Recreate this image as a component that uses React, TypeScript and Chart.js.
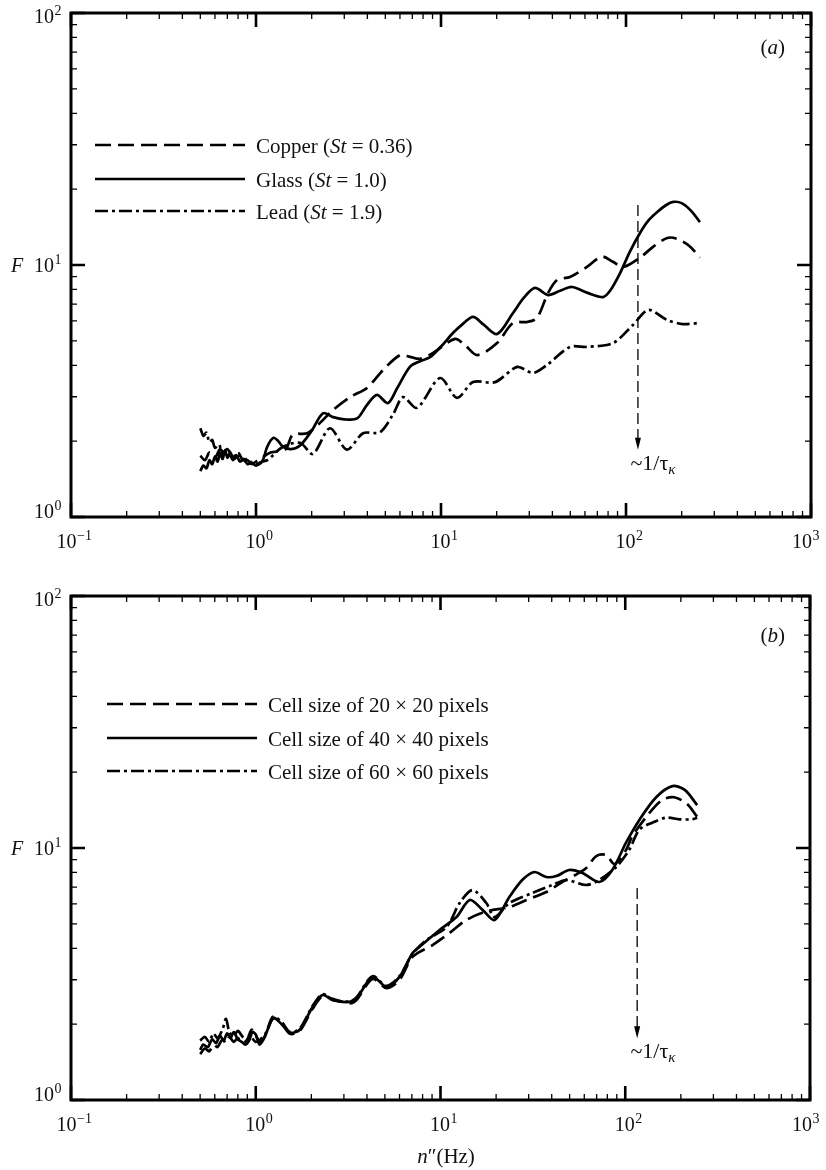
import React, { useEffect, useRef } from 'react';
import { Chart, registerables } from 'chart.js';

Chart.register(...registerables);

const SERIF = '"Liberation Serif", "Times New Roman", "DejaVu Serif", serif';
const INK = '#111';

// ---------- Panel (a): particle materials ----------
const copperX = [0.5, 0.53, 0.56, 0.6, 0.64, 0.68, 0.72, 0.76, 0.8, 0.85, 0.9, 0.95, 1.0, 1.08, 1.19, 1.3, 1.45, 1.58, 1.89, 2.2, 2.61, 3.22, 3.98, 4.86, 6.0, 6.8, 7.69, 9.06, 11.9, 13.5, 15.7, 20.1, 24.5, 29.2, 33.0, 37.9, 42.4, 49.8, 61.5, 74.1, 85.0, 96.4, 119, 140, 167, 189, 220, 251];
const copperF = [1.75, 1.68, 1.8, 1.72, 1.86, 1.76, 1.82, 1.7, 1.74, 1.66, 1.68, 1.62, 1.66, 1.72, 1.8, 1.82, 1.86, 2.12, 2.15, 2.35, 2.66, 2.99, 3.25, 3.83, 4.39, 4.32, 4.24, 4.48, 5.09, 4.8, 4.39, 4.9, 5.89, 5.94, 6.16, 7.74, 8.72, 8.96, 9.82, 10.8, 10.3, 9.82, 10.7, 11.8, 12.8, 12.7, 11.9, 10.7];

const glassX = [0.5, 0.52, 0.54, 0.56, 0.58, 0.6, 0.62, 0.64, 0.66, 0.68, 0.7, 0.72, 0.75, 0.78, 0.82, 0.86, 0.9, 0.95, 1.0, 1.08, 1.15, 1.24, 1.32, 1.4, 1.55, 1.73, 2.0, 2.3, 2.61, 3.0, 3.52, 4.0, 4.51, 5.17, 5.8, 6.79, 7.7, 8.73, 10.0, 11.6, 13.0, 14.9, 17.0, 20.1, 24.5, 28.0, 32.2, 37.9, 44.0, 51.1, 62.0, 75.1, 82.0, 92.9, 105, 119, 132, 147, 165, 180, 200, 225, 251];
const glassF = [1.52, 1.6, 1.56, 1.68, 1.62, 1.74, 1.66, 1.8, 1.7, 1.84, 1.72, 1.78, 1.68, 1.76, 1.66, 1.7, 1.62, 1.64, 1.6, 1.66, 1.9, 2.06, 2.0, 1.9, 1.86, 1.92, 2.2, 2.58, 2.49, 2.44, 2.46, 2.8, 3.05, 2.83, 3.25, 3.94, 4.15, 4.31, 4.75, 5.37, 5.8, 6.22, 5.8, 5.32, 6.45, 7.4, 8.11, 7.6, 7.9, 8.18, 7.75, 7.46, 7.9, 9.29, 11.3, 13.4, 15.0, 16.2, 17.3, 17.8, 17.6, 16.4, 14.8];

const leadX = [0.5, 0.52, 0.54, 0.56, 0.58, 0.6, 0.63, 0.66, 0.7, 0.75, 0.8, 0.85, 0.9, 0.95, 1.0, 1.08, 1.15, 1.4, 1.73, 2.03, 2.51, 3.1, 3.79, 4.68, 5.5, 6.24, 7.41, 9.89, 12.2, 14.9, 19.6, 25.8, 31.4, 37.4, 49.8, 61.5, 85.1, 109, 132, 167, 203, 251];
const leadF = [2.25, 2.1, 2.16, 1.98, 2.02, 1.88, 1.94, 1.8, 1.86, 1.73, 1.8, 1.68, 1.7, 1.64, 1.62, 1.66, 1.68, 1.9, 1.97, 1.78, 2.25, 1.85, 2.15, 2.17, 2.55, 2.99, 2.71, 3.56, 2.97, 3.43, 3.43, 3.94, 3.73, 4.01, 4.73, 4.73, 4.9, 5.78, 6.63, 6.05, 5.83, 5.89];

// ---------- Panel (b): PIV cell sizes ----------
const cell20X = [0.5, 0.53, 0.56, 0.59, 0.62, 0.66, 0.69, 0.72, 0.76, 0.8, 0.85, 0.9, 0.95, 1.0, 1.06, 1.14, 1.24, 1.38, 1.53, 1.73, 2.03, 2.3, 2.61, 3.22, 3.52, 4.29, 5.1, 6.0, 7.06, 9.06, 11.2, 13.8, 17.7, 23.6, 29.2, 37.4, 45.6, 55.0, 61.5, 69.7, 78.9, 87.3, 101, 109, 130, 158, 184, 215, 245];
const cell20F = [1.52, 1.6, 1.56, 1.66, 1.62, 1.74, 1.68, 1.78, 1.7, 1.76, 1.68, 1.74, 1.9, 1.8, 1.7, 1.84, 2.1, 2.02, 1.83, 1.88, 2.3, 2.58, 2.52, 2.42, 2.5, 3.02, 2.78, 3.0, 3.7, 4.12, 4.6, 5.18, 5.6, 5.83, 6.22, 6.69, 7.33, 7.9, 8.33, 9.29, 9.38, 8.64, 9.82, 11.1, 13.3, 15.5, 15.9, 15.0, 13.3];

const cell40X = [0.5, 0.52, 0.55, 0.58, 0.61, 0.64, 0.67, 0.7, 0.73, 0.76, 0.8, 0.84, 0.88, 0.92, 0.96, 1.0, 1.05, 1.12, 1.24, 1.38, 1.53, 1.73, 2.03, 2.3, 2.61, 3.22, 3.52, 4.29, 5.1, 6.0, 7.06, 7.69, 9.89, 12.2, 14.4, 16.9, 19.6, 23.6, 27.7, 32.2, 37.4, 42.4, 49.8, 58.6, 72.3, 85.1, 101, 119, 147, 180, 210, 245];
const cell40F = [1.58, 1.66, 1.62, 1.74, 1.68, 1.8, 1.72, 1.84, 1.76, 1.86, 1.74, 1.7, 1.66, 1.72, 1.86, 1.82, 1.66, 1.78, 2.12, 2.0, 1.85, 1.9, 2.34, 2.61, 2.49, 2.45, 2.54, 3.08, 2.81, 3.08, 3.83, 4.05, 4.73, 5.32, 6.22, 5.68, 5.18, 6.39, 7.46, 8.03, 7.67, 7.74, 8.18, 7.96, 7.33, 8.18, 10.5, 12.9, 15.9, 17.6, 17.0, 14.8];

const cell60X = [0.5, 0.53, 0.56, 0.59, 0.62, 0.66, 0.69, 0.72, 0.76, 0.8, 0.85, 0.9, 0.95, 1.0, 1.06, 1.14, 1.24, 1.38, 1.53, 1.73, 2.03, 2.3, 2.61, 3.22, 3.52, 4.29, 5.1, 6.0, 7.06, 8.39, 10.8, 12.7, 14.9, 17.7, 19.6, 23.6, 31.4, 40.3, 48.0, 61.5, 72.3, 89.3, 105, 119, 140, 167, 196, 230, 245];
const cell60F = [1.72, 1.78, 1.7, 1.84, 1.76, 1.9, 2.1, 1.86, 1.8, 1.88, 1.78, 1.72, 1.76, 1.7, 1.74, 1.86, 2.14, 2.04, 1.86, 1.92, 2.36, 2.63, 2.5, 2.46, 2.56, 3.1, 2.84, 3.1, 3.8, 4.31, 4.86, 6.05, 6.81, 6.05, 5.32, 6.05, 6.63, 7.13, 7.46, 7.13, 7.46, 8.41, 9.82, 11.8, 12.6, 13.2, 13.0, 13.0, 13.2];

// ---------- axes & annotations ----------
const xDecades = [0.1, 1, 10, 100, 1000];
const xExponents = ['\u22121', '0', '1', '2', '3'];
const yDecades = [1, 10, 100];
const yExponents = ['0', '1', '2'];
const kolmogorovFreq = 116;
const arrowA = [17.3, 1.85];
const arrowB = [6.94, 1.76];

const legendA = ['Copper', 'Glass', 'Lead'];
const legendAStokes = ['0.36', '1.0', '1.9'];
const legendB = ['Cell size of 20 \u00d7 20 pixels', 'Cell size of 40 \u00d7 40 pixels', 'Cell size of 60 \u00d7 60 pixels'];

const DASH = [16, 7];
const DASHDOT = [13, 4, 3, 4];
const STYLES = [DASH, [], DASHDOT];

function pts(xs: number[], ys: number[]) {
  return xs.map((x, i) => ({ x, y: ys[i] }));
}

function drawParts(ctx: CanvasRenderingContext2D, parts: { t: string; i?: boolean }[], x: number, y: number, size: number) {
  let cx = x;
  ctx.textAlign = 'left';
  ctx.textBaseline = 'alphabetic';
  for (const p of parts) {
    ctx.font = `${p.i ? 'italic ' : ''}${size}px ${SERIF}`;
    ctx.fillText(p.t, cx, y);
    cx += ctx.measureText(p.t).width;
  }
  return cx - x;
}

function measureParts(ctx: CanvasRenderingContext2D, parts: { t: string; i?: boolean }[], size: number) {
  let w = 0;
  for (const p of parts) {
    ctx.font = `${p.i ? 'italic ' : ''}${size}px ${SERIF}`;
    w += ctx.measureText(p.t).width;
  }
  return w;
}

function drawPow(ctx: CanvasRenderingContext2D, exp: string, x: number, y: number, size: number, align: 'center' | 'right', maxRight = 10000) {
  const small = Math.round(size * 0.68);
  ctx.font = `${size}px ${SERIF}`;
  const w1 = ctx.measureText('10').width;
  ctx.font = `${small}px ${SERIF}`;
  const w2 = ctx.measureText(exp).width;
  let sx = align === 'center' ? x - (w1 + w2) / 2 : x - w1 - w2;
  if (sx + w1 + w2 > maxRight) sx = maxRight - w1 - w2;
  ctx.textAlign = 'left';
  ctx.textBaseline = 'alphabetic';
  ctx.font = `${size}px ${SERIF}`;
  ctx.fillText('10', sx, y);
  ctx.font = `${small}px ${SERIF}`;
  ctx.fillText(exp, sx + w1 + 0.5, y - size * 0.42);
}

type PanelCfg = {
  datasets: { data: { x: number; y: number }[]; dash: number[] }[];
  legend: { parts: { t: string; i?: boolean }[]; y: number }[];
  legendX1: number;
  legendX2: number;
  legendTextX: number;
  tag: string;
  tagBaseline: number;
  arrow: number[];
  tauBaseline: number;
  xTitleBaseline: number | null;
};

function decorPlugin(cfg: PanelCfg) {
  return {
    id: 'decor',
    afterDatasetsDraw(chart: any) {
      const ctx: CanvasRenderingContext2D = chart.ctx;
      const xs = chart.scales.x;
      const ys = chart.scales.y;
      const { left, right, top, bottom } = chart.chartArea;
      ctx.save();
      ctx.strokeStyle = '#000';
      ctx.fillStyle = INK;
      ctx.setLineDash([]);

      // ticks (inward, all four sides)
      const MAJ = 14;
      const MIN = 6;
      xDecades.forEach((d, di) => {
        const px = xs.getPixelForValue(d);
        ctx.lineWidth = 2.6;
        ctx.beginPath();
        ctx.moveTo(px, bottom); ctx.lineTo(px, bottom - MAJ);
        ctx.moveTo(px, top); ctx.lineTo(px, top + MAJ);
        ctx.stroke();
        if (di < xDecades.length - 1) {
          ctx.lineWidth = 1.3;
          ctx.beginPath();
          for (let k = 2; k <= 9; k++) {
            const mx = xs.getPixelForValue(d * k);
            ctx.moveTo(mx, bottom); ctx.lineTo(mx, bottom - MIN);
            ctx.moveTo(mx, top); ctx.lineTo(mx, top + MIN);
          }
          ctx.stroke();
        }
      });
      yDecades.forEach((d, di) => {
        const py = ys.getPixelForValue(d);
        ctx.lineWidth = 2.6;
        ctx.beginPath();
        ctx.moveTo(left, py); ctx.lineTo(left + MAJ, py);
        ctx.moveTo(right, py); ctx.lineTo(right - MAJ, py);
        ctx.stroke();
        if (di < yDecades.length - 1) {
          ctx.lineWidth = 1.3;
          ctx.beginPath();
          for (let k = 2; k <= 9; k++) {
            const my = ys.getPixelForValue(d * k);
            ctx.moveTo(left, my); ctx.lineTo(left + MIN, my);
            ctx.moveTo(right, my); ctx.lineTo(right - MIN, my);
          }
          ctx.stroke();
        }
      });

      // frame
      ctx.lineWidth = 3;
      ctx.strokeRect(left, top, right - left, bottom - top);

      // tick labels
      xDecades.forEach((d, i) => {
        drawPow(ctx, xExponents[i], xs.getPixelForValue(d) + 3, bottom + 31, 20, 'center', 819);
      });
      yDecades.forEach((d, i) => {
        const py = ys.getPixelForValue(d);
        const base = Math.min(Math.max(py + 7, top + 10), bottom + 1);
        drawPow(ctx, yExponents[i], left - 10, base, 20, 'right');
      });
      // F label
      ctx.font = `italic 20px ${SERIF}`;
      ctx.textAlign = 'center';
      ctx.fillText('F', 17, ys.getPixelForValue(10) + 7);

      // legend
      cfg.legend.forEach((item, i) => {
        ctx.strokeStyle = '#000';
        ctx.lineWidth = 2.6;
        ctx.setLineDash(STYLES[i]);
        ctx.beginPath();
        ctx.moveTo(cfg.legendX1, item.y);
        ctx.lineTo(cfg.legendX2, item.y);
        ctx.stroke();
        ctx.setLineDash([]);
        drawParts(ctx, item.parts, cfg.legendTextX, item.y + 7.5, 21);
      });

      // panel tag
      const tagParts = [{ t: '(' }, { t: cfg.tag, i: true }, { t: ')' }];
      const tw = measureParts(ctx, tagParts, 21);
      drawParts(ctx, tagParts, 785 - tw, cfg.tagBaseline, 21);

      // Kolmogorov arrow
      const ax = xs.getPixelForValue(kolmogorovFreq);
      const ay1 = ys.getPixelForValue(cfg.arrow[0]);
      const ay2 = ys.getPixelForValue(cfg.arrow[1]);
      ctx.lineWidth = 1.3;
      ctx.setLineDash([11, 5]);
      ctx.beginPath();
      ctx.moveTo(ax, ay1);
      ctx.lineTo(ax, ay2 - 10);
      ctx.stroke();
      ctx.setLineDash([]);
      ctx.fillStyle = '#000';
      ctx.beginPath();
      ctx.moveTo(ax - 3, ay2 - 12);
      ctx.lineTo(ax + 3, ay2 - 12);
      ctx.lineTo(ax, ay2);
      ctx.closePath();
      ctx.fill();
      ctx.fillStyle = INK;
      const tauParts = [{ t: '~1/\u03c4' }];
      const w1 = measureParts(ctx, tauParts, 22);
      ctx.font = `italic 15px ${SERIF}`;
      const w2 = ctx.measureText('\u03ba').width;
      const sx = 653 - (w1 + w2) / 2;
      drawParts(ctx, tauParts, sx, cfg.tauBaseline, 22);
      ctx.font = `italic 15px ${SERIF}`;
      ctx.textAlign = 'left';
      ctx.fillText('\u03ba', sx + w1, cfg.tauBaseline + 4);

      // x-axis title
      if (cfg.xTitleBaseline !== null) {
        const parts = [{ t: 'n', i: true }, { t: '\u2033' }, { t: '(Hz)' }];
        const w = measureParts(ctx, parts, 21);
        drawParts(ctx, parts, 446 - w / 2, cfg.xTitleBaseline, 21);
      }
      ctx.restore();
    },
  };
}

function makeConfig(cfg: PanelCfg, pad: { left: number; top: number; right: number; bottom: number }): any {
  return {
    type: 'line',
    data: {
      datasets: cfg.datasets.map((d) => ({
        data: d.data,
        borderColor: '#000',
        borderWidth: 2.7,
        borderDash: d.dash,
        pointRadius: 0,
        tension: 0.3,
        fill: false,
      })),
    },
    options: {
      responsive: false,
      animation: false,
      devicePixelRatio: 1,
      layout: { padding: pad },
      plugins: { legend: { display: false }, tooltip: { enabled: false }, title: { display: false } },
      events: [],
      scales: {
        x: { type: 'logarithmic', min: 0.1, max: 1000, display: false },
        y: { type: 'logarithmic', min: 1, max: 100, display: false },
      },
    },
    plugins: [decorPlugin(cfg)],
  };
}

const panelA: PanelCfg = {
  datasets: [
    { data: pts(copperX, copperF), dash: DASH },
    { data: pts(glassX, glassF), dash: [] },
    { data: pts(leadX, leadF), dash: DASHDOT },
  ],
  legend: legendA.map((name, i) => ({
    parts: [{ t: `${name} (` }, { t: 'St', i: true }, { t: ` = ${legendAStokes[i]})` }],
    y: [145, 179, 211][i],
  })),
  legendX1: 95,
  legendX2: 245,
  legendTextX: 256,
  tag: 'a',
  tagBaseline: 54,
  arrow: arrowA,
  tauBaseline: 470,
  xTitleBaseline: null,
};

const panelB: PanelCfg = {
  datasets: [
    { data: pts(cell20X, cell20F), dash: DASH },
    { data: pts(cell40X, cell40F), dash: [] },
    { data: pts(cell60X, cell60F), dash: DASHDOT },
  ],
  legend: legendB.map((name, i) => ({ parts: [{ t: name }], y: [129, 163, 196][i] })),
  legendX1: 107,
  legendX2: 257,
  legendTextX: 268,
  tag: 'b',
  tagBaseline: 67,
  arrow: arrowB,
  tauBaseline: 483,
  xTitleBaseline: 588,
};

export default function App() {
  const refA = useRef<HTMLCanvasElement>(null);
  const refB = useRef<HTMLCanvasElement>(null);
  useEffect(() => {
    const a = new Chart(refA.current as HTMLCanvasElement, makeConfig(panelA, { left: 71, top: 13, right: 15, bottom: 48 }));
    const b = new Chart(refB.current as HTMLCanvasElement, makeConfig(panelB, { left: 71, top: 21, right: 16, bottom: 70 }));
    return () => {
      a.destroy();
      b.destroy();
    };
  }, []);
  return (
    <div style={{ position: 'absolute', left: 0, top: 0, width: 826, height: 1170, background: '#fff' }}>
      <canvas ref={refA} width={826} height={565} style={{ position: 'absolute', left: 0, top: 0 }} />
      <canvas ref={refB} width={826} height={595} style={{ position: 'absolute', left: 0, top: 575 }} />
    </div>
  );
}
